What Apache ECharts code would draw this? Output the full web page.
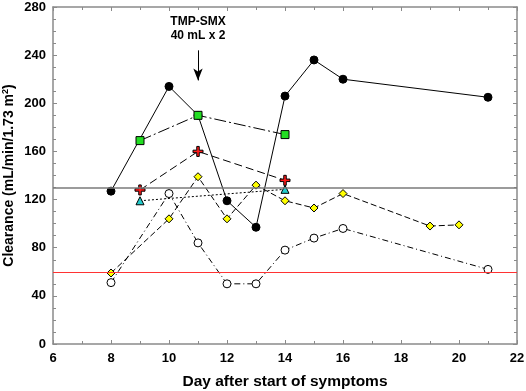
<!DOCTYPE html>
<html>
<head>
<meta charset="utf-8">
<script src="https://cdn.jsdelivr.net/npm/echarts@6/dist/echarts.min.js"></script>
<style>
  html, body { margin: 0; padding: 0; background: #fff; }
  #chart { width: 526px; height: 391px; }
</style>
</head>
<body>
<div id="chart"></div>
<script>
// data: [day, clearance]
const blackPts = [[8, 127], [10, 214], [11, 190], [12, 119], [13, 97], [14, 206], [15, 236], [16, 220], [21, 205]]
const greenPts = [[9, 169], [11, 190], [14, 174]]
const redPts = [[9, 128], [11, 160], [14, 136]]
const cyanPts = [[9, 119], [14, 128.5]]
const yellowPts = [[8, 59], [10, 104], [11, 139], [12, 104], [13, 132], [14, 119], [15, 113], [16, 125], [19, 98], [20, 99]]
const whitePts = [[8, 51], [10, 125], [11, 84], [12, 50], [13, 50], [14, 78], [15, 88], [16, 96], [21, 62]]
const refNormal = 130
const refLow = 60
const doseDay = 11
const doseText = 'TMP-SMX\n40 mL x 2'

const axisGray = '#8a8a8a'
const font = 'Liberation Sans, Arial, sans-serif'
const crossPath = 'path://M3,0 H5 V3 H8 V5 H5 V8 H3 V5 H0 V3 H3 Z'

const chart = echarts.init(document.getElementById('chart'))

function xAx(pos, showLabel) {
  return {
    type: 'value', position: pos, min: 6, max: 22, interval: 2,
    axisLine: { show: true, onZero: false, lineStyle: { color: axisGray, width: 1.5 } },
    axisTick: { show: true, inside: true, length: 4, lineStyle: { color: axisGray } },
    minorTick: { show: true, splitNumber: 2, length: 3, lineStyle: { color: axisGray } },
    splitLine: { show: false },
    axisLabel: { show: showLabel, color: '#000', fontWeight: 'bold', fontSize: 13, fontFamily: font, margin: 8 },
    name: showLabel ? 'Day after start of symptoms' : '',
    nameLocation: 'middle', nameGap: 30, nameMoveOverlap: false,
    nameTextStyle: { color: '#000', fontWeight: 'bold', fontSize: 15.5, fontFamily: font }
  }
}
function yAx(pos, showLabel) {
  return {
    type: 'value', position: pos, min: 0, max: 280, interval: 40,
    axisLine: { show: true, onZero: false, lineStyle: { color: axisGray, width: 1.5 } },
    axisTick: { show: true, inside: true, length: 4, lineStyle: { color: axisGray } },
    minorTick: { show: true, splitNumber: 4, length: 3, lineStyle: { color: axisGray } },
    splitLine: { show: false },
    axisLabel: { show: showLabel, color: '#000', fontWeight: 'bold', fontSize: 13, fontFamily: font, margin: 7 },
    name: showLabel ? 'Clearance (mL/min/1.73 m{sup|2})' : '',
    nameLocation: 'middle', nameGap: 36, nameRotate: 90, nameMoveOverlap: false,
    nameTextStyle: {
      color: '#000', fontWeight: 'bold', fontSize: 14, fontFamily: font,
      rich: { sup: { fontSize: 9, fontWeight: 'bold', fontFamily: font, verticalAlign: 'top', padding: [0, 0, 7, 0] } }
    }
  }
}

function line(data, dash, symbol, size, fill) {
  return {
    type: 'line', data: data, symbol: symbol, symbolSize: size,
    lineStyle: { color: '#000', width: 1, type: dash },
    itemStyle: { color: fill, borderColor: '#000', borderWidth: 1 },
    animation: false
  }
}

chart.setOption({
  animation: false,
  grid: { left: 53, right: 9, top: 7, bottom: 47, outerBoundsMode: 'none', containLabel: false },
  xAxis: [xAx('bottom', true), xAx('top', false)],
  yAxis: [yAx('left', true), yAx('right', false)],
  series: [
    {
      type: 'line', data: [], silent: true,
      markLine: {
        silent: true, symbol: 'none', label: { show: false },
        data: [
          { yAxis: refNormal, lineStyle: { color: '#7a7a7a', width: 1.5, type: 'solid' } },
          { yAxis: refLow, lineStyle: { color: '#ff3333', width: 1, type: 'solid' } },
          [
            { coord: [doseDay, 244], symbol: 'none' },
            { coord: [doseDay, 219], symbol: 'arrow', symbolSize: [7, 12], lineStyle: { color: '#000', width: 1, type: 'solid' } }
          ]
        ]
      },
      markPoint: {
        symbol: 'circle', symbolSize: 0,
        label: {
          show: true, formatter: doseText, color: '#000', fontWeight: 'bold',
          fontSize: 12, fontFamily: font, lineHeight: 14, align: 'center'
        },
        data: [{ coord: [doseDay, 262] }]
      }
    },
    line(blackPts, 'solid', 'circle', 8, '#000'),
    line(greenPts, [12, 3, 2, 3], 'rect', 8, '#22dd22'),
    line(redPts, [8, 4], crossPath, 10, '#ff1a1a'),
    line(cyanPts, [2, 2], 'triangle', 8, '#22cccc'),
    line(yellowPts, [6, 3], 'diamond', 8, '#ffff00'),
    line(whitePts, [6, 3, 1, 3], 'circle', 8, '#fff')
  ]
})
</script>
</body>
</html>
